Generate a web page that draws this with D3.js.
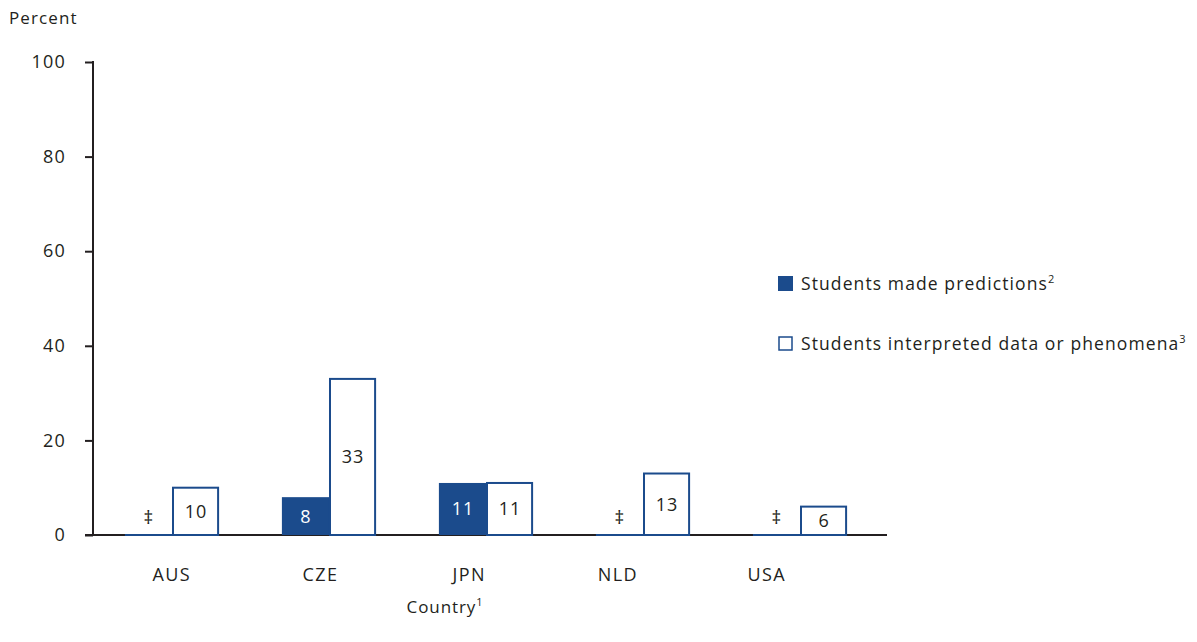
<!DOCTYPE html>
<html>
<head>
<meta charset="utf-8">
<script src="https://cdn.jsdelivr.net/npm/d3@7"></script>
<style>
  body { margin: 0; background: #fff; }
  text { font-family: "Open Sans", "Noto Sans", sans-serif; fill: #231f20; }
</style>
</head>
<body>
<div id="chart"></div>
<script>
var countries = ["AUS", "CZE", "JPN", "NLD", "USA"];
var series = ["Students made predictions", "Students interpreted data or phenomena"];
var notes = ["2", "3"];
// null = reporting standards not met (shown as ‡)
var predictions = [null, 8, 11, null, null];
var interpreted = [10, 33, 11, 13, 6];
var yTicks = [0, 20, 40, 60, 80, 100];

var blue = "#1b4b8c";
var ink = "#231f20";
var width = 1197, height = 642;

var svg = d3.select("#chart").append("svg")
  .attr("width", width)
  .attr("height", height);

var y = d3.scaleLinear().domain([0, 100]).range([535, 62]);
var x0 = d3.scaleBand().domain(countries).range([93.5, 878.5]).paddingInner(0.4).paddingOuter(0.2);
var x1 = d3.scaleBand().domain(series).range([0, x0.bandwidth()]);
var xLabel = d3.scalePoint().domain(countries).range([171, 766]);

// y axis
var yAxis = svg.append("g").attr("transform", "translate(93,0)")
  .call(d3.axisLeft(y).tickValues(yTicks).tickSize(8).tickPadding(19));
yAxis.select(".domain").remove();
yAxis.selectAll(".tick line").attr("stroke", ink).attr("stroke-width", 2);
yAxis.selectAll(".tick text").attr("font-size", 18).attr("fill", ink)
  .attr("letter-spacing", 1.2)
  .style("font-family", "'Open Sans', sans-serif");
svg.append("line").attr("x1", 93).attr("x2", 93).attr("y1", y(100) - 1).attr("y2", y(0))
  .attr("stroke", ink).attr("stroke-width", 2);

svg.append("text").attr("x", 9).attr("y", 24).attr("font-size", 17)
  .attr("letter-spacing", 1.1).text("Percent");

// baseline
svg.append("line").attr("x1", 85).attr("x2", 887).attr("y1", y(0)).attr("y2", y(0))
  .attr("stroke", ink).attr("stroke-width", 2);

var rows = countries.map(function(c, i) {
  return { country: c, values: [predictions[i], interpreted[i]] };
});

var groups = svg.selectAll("g.group").data(rows).enter().append("g")
  .attr("class", "group")
  .attr("transform", function(d) { return "translate(" + x0(d.country) + ",0)"; });

var cells = groups.selectAll("g.cell")
  .data(function(d) { return d.values.map(function(v, j) { return { key: series[j], value: v, j: j }; }); })
  .enter().append("g").attr("class", "cell");

cells.filter(function(d) { return d.value !== null; }).append("rect")
  .attr("x", function(d) { return x1(d.key) + (d.j === 1 ? 1 : 0); })
  .attr("width", function(d) { return x1.bandwidth() - (d.j === 1 ? 2 : 0); })
  .attr("y", function(d) { return y(d.value); })
  .attr("height", function(d) { return y(0) - y(d.value); })
  .attr("fill", function(d) { return d.j === 0 ? blue : "#fff"; })
  .attr("stroke", blue)
  .attr("stroke-width", function(d) { return d.j === 0 ? 0 : 2; });

cells.filter(function(d) { return d.value === null; }).append("line")
  .attr("x1", function(d) { return x1(d.key); })
  .attr("x2", function(d) { return x1(d.key) + x1.bandwidth(); })
  .attr("y1", y(0)).attr("y2", y(0))
  .attr("stroke", blue).attr("stroke-width", 2);

cells.append("text")
  .attr("x", function(d) { return x1(d.key) + x1.bandwidth() / 2 + 0.5; })
  .attr("y", function(d) { return d.value === null ? y(0) - 18 : (y(d.value) + y(0)) / 2; })
  .attr("dy", "0.36em")
  .attr("text-anchor", "middle")
  .attr("font-size", function(d) { return d.value === null ? 19 : 18; })
  .attr("letter-spacing", 1)
  .style("fill", function(d) { return d.value !== null && d.j === 0 ? "#fff" : ink; })
  .text(function(d) { return d.value === null ? "\u2021" : d.value; });

// country labels
svg.selectAll("text.country").data(countries).enter().append("text")
  .attr("class", "country")
  .attr("x", function(d) { return xLabel(d) + 0.7; })
  .attr("y", 581)
  .attr("text-anchor", "middle")
  .attr("font-size", 18)
  .attr("letter-spacing", 1.4)
  .text(function(d) { return d; });

var xTitle = svg.append("text").attr("x", 445).attr("y", 613).attr("text-anchor", "middle")
  .attr("font-size", 17).attr("letter-spacing", 0.9);
xTitle.append("tspan").text("Country");
xTitle.append("tspan").attr("font-size", 11).attr("dy", -7).text("1");

// legend
var legend = svg.selectAll("g.legend").data(series).enter().append("g")
  .attr("class", "legend")
  .attr("transform", function(d, i) { return "translate(778," + (276 + i * 60) + ")"; });
legend.append("rect")
  .attr("x", function(d, i) { return i === 0 ? 0 : 1; })
  .attr("y", function(d, i) { return i === 0 ? 0 : 1; })
  .attr("width", function(d, i) { return i === 0 ? 15 : 13; })
  .attr("height", function(d, i) { return i === 0 ? 15 : 13; })
  .attr("fill", function(d, i) { return i === 0 ? blue : "#fff"; })
  .attr("stroke", blue)
  .attr("stroke-width", function(d, i) { return i === 0 ? 0 : 1.5; });
var lt = legend.append("text").attr("x", 23).attr("y", 14).attr("font-size", 17.5)
  .attr("letter-spacing", 1.1);
lt.append("tspan").text(function(d) { return d; });
lt.append("tspan").attr("font-size", 11).attr("dy", -7).attr("letter-spacing", 0).text(function(d, i) { return notes[i]; });
</script>
</body>
</html>
